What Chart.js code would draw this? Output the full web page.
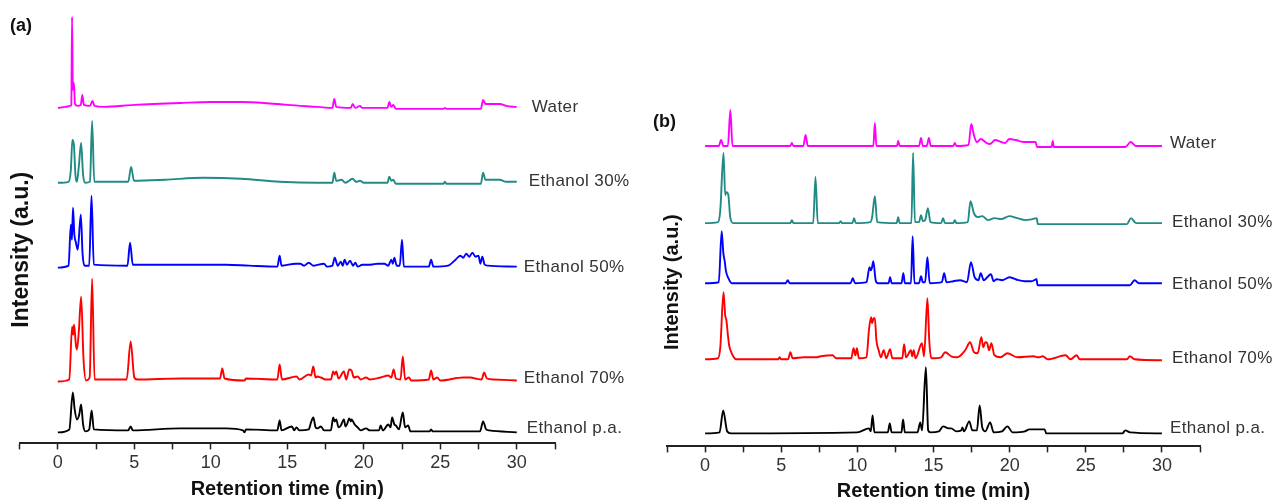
<!DOCTYPE html>
<html>
<head>
<meta charset="utf-8">
<script src="https://cdn.jsdelivr.net/npm/chart.js@4.4.1/dist/chart.umd.min.js"></script>
<style>
  body { margin: 0; background: #fff; }
  #wrap { position: relative; width: 1279px; height: 500px; overflow: hidden; }
  #chartA { position: absolute; left: 0; top: 0; }
  #chartB { position: absolute; left: 640px; top: 0; }
</style>
</head>
<body>
<div id="wrap">
  <canvas id="chartA" width="640" height="500"></canvas>
  <canvas id="chartB" width="639" height="500"></canvas>
</div>
<script>
// trace names, top to bottom
const traceNames = ['Water', 'Ethanol 30%', 'Ethanol 50%', 'Ethanol 70%', 'Ethanol p.a.']
const traceColors = ['#ff00ff', '#208a84', '#0000ff', '#ff0000', '#000000']

// stacking offsets (a.u.) of each trace baseline
const offsetsA = [337, 261, 177, 63, 12]
const offsetsB = [300, 223, 163, 87, 13]

// ---- panel (a) : retention time (min) / intensity above baseline (a.u.)
const timeAWater = [0, 0.5, 0.8, 0.88, 0.93, 0.98, 1.05, 1.12, 1.3, 1.5, 1.6, 1.7, 2.1, 2.26, 2.4, 3, 5, 8, 10, 12, 13.5, 15, 17, 17.95, 18.07, 18.2, 19.15, 19.27, 19.45, 19.75, 19.9, 21.55, 21.67, 21.8, 21.93, 22.1, 25.2, 25.3, 25.4, 27.65, 27.8, 27.95, 28.9, 29.3, 30]
const intAWater = [-1, 0, 1, 2, 90, 17, 24, 3, 1, 2, 12, 2, 1, 6, 1, 0, 2, 4, 5, 5, 4, 2, 0, -1, 8, 0, -1, 3, -1, 1, -1, -1, 5, 0, 2, -2, -2, -1, -2, -2, 7, 3, 3, 1, 0]

const timeA30 = [0, 0.7, 0.85, 0.95, 1.05, 1.15, 1.25, 1.38, 1.52, 1.65, 1.8, 2.1, 2.24, 2.38, 4.6, 4.79, 4.98, 7, 9.5, 12, 14.5, 17, 17.95, 18.07, 18.2, 18.55, 18.8, 19.27, 19.5, 19.75, 20, 21.55, 21.67, 21.8, 21.93, 22.1, 25.2, 25.3, 25.4, 27.65, 27.8, 27.95, 28.9, 29.3, 30]
const intA30 = [0, 1, 13, 43, 38, 8, 1, 18, 40, 8, 0, 1, 62, 1, 1, 16, 2, 3, 5, 4, 1, 0, 0, 10, 2, 3, 0, 4, 1, 2, 0, 0, 6, 2, 3, -1, -1, 1, -1, -1, 10, 3, 3, 1, 1]

const timeA50 = [0, 0.7, 0.85, 0.92, 0.99, 1.08, 1.17, 1.3, 1.5, 1.62, 1.75, 2.05, 2.2, 2.35, 4.55, 4.72, 4.9, 7, 9, 11, 12.5, 14.35, 14.5, 14.62, 15.55, 15.85, 16.1, 16.4, 16.7, 17.4, 17.6, 17.95, 18.1, 18.3, 18.5, 18.62, 18.75, 18.9, 19.1, 19.3, 19.45, 19.6, 19.9, 20.45, 20.9, 21.35, 21.6, 21.8, 21.9, 22, 22.15, 22.35, 22.5, 22.62, 22.8, 24.25, 24.4, 24.55, 25.5, 26, 26.3, 26.5, 26.7, 26.9, 27.1, 27.3, 27.5, 27.62, 27.75, 27.9, 28.1, 30]
const intA50 = [-1, 1, 42, 27, 59, 32, 25, 17, 52, 12, 1, 1, 71, 2, 1, 24, 2, 2, 2, 2, 1, 0, 11, 1, 3, 3, 1, 4, 1, 3, 0, 1, 9, 1, 5, 1, 7, 2, 6, 1, 4, 0, 2, 2, 3, 3, 1, 7, 3, 9, 1, 1, 27, 0, 0, 0, 7, 0, 1, 7, 11, 9, 13, 10, 14, 10, 11, 3, 10, 2, 1, 0]

const timeA70 = [0, 0.75, 0.93, 1, 1.06, 1.18, 1.25, 1.38, 1.52, 1.68, 1.84, 2.08, 2.24, 2.4, 4.5, 4.76, 5, 5.2, 8, 10.6, 10.75, 10.9, 12.2, 12.3, 14.35, 14.5, 14.65, 15.6, 15.8, 16.4, 16.55, 16.7, 16.85, 16.95, 17.2, 17.5, 17.85, 18, 18.1, 18.2, 18.35, 18.7, 18.85, 19.05, 19.2, 19.35, 19.6, 19.8, 20.15, 20.4, 21.1, 21.6, 21.8, 21.95, 22.1, 22.4, 22.55, 22.7, 22.95, 23.1, 24.25, 24.4, 24.55, 24.8, 25, 26.5, 27, 27.3, 27.7, 27.87, 28.05, 28.5, 30]
const intA70 = [-1, 1, 54, 46, 56, 36, 31, 51, 84, 21, 0, 3, 102, 1, 1, 39, 3, 1, 2, 2, 12, 2, 0, 2, 1, 16, 1, 4, 1, 6, 5, 14, 3, 4, 3, 1, 1, 9, 6, 9, 2, 9, 1, 11, 10, 3, 4, 1, 3, 1, 3, 5, 3, 11, 2, 1, 24, 1, 3, 0, 1, 10, 1, 3, 0, 3, 3, 2, 1, 8, 2, 1, 0]

const timeAPa = [0, 0.75, 0.98, 1.1, 1.25, 1.4, 1.52, 1.65, 1.8, 2.05, 2.21, 2.35, 4.6, 4.76, 4.9, 8, 11, 12.1, 12.2, 12.3, 14.35, 14.5, 14.62, 15.3, 15.45, 15.6, 15.8, 16.4, 16.55, 16.7, 16.85, 16.95, 17.2, 17.4, 17.85, 18, 18.1, 18.2, 18.35, 18.5, 18.7, 18.8, 18.9, 19.05, 19.15, 19.2, 19.4, 19.6, 19.8, 20.15, 20.4, 21, 21.1, 21.25, 21.6, 21.75, 21.85, 22, 22.1, 22.3, 22.55, 22.7, 22.9, 23.05, 24.3, 24.4, 24.5, 27.6, 27.8, 28, 28.2, 30]
const intAPa = [-1, 2, 39, 22, 12, 17, 27, 7, 0, 2, 21, 2, 1, 5, 1, 3, 3, 1, -1, 2, 1, 11, 1, 5, 1, 4, 1, 2, 9, 14, 4, 3, 5, 1, 1, 14, 10, 12, 4, 6, 12, 5, 7, 13, 10, 12, 7, 4, 1, 3, 1, 1, 6, 1, 7, 4, 14, 7, 6, 2, 19, 4, 6, 0, 0, 2, 0, 0, 10, 2, 1, -1]

// ---- panel (b)
const timeBWater = [0, 0.9, 1.05, 1.2, 1.5, 1.66, 1.8, 5.6, 5.7, 5.8, 6.45, 6.6, 6.75, 11.05, 11.15, 11.25, 12.6, 12.68, 12.78, 14.05, 14.18, 14.3, 14.55, 14.7, 14.82, 16.3, 16.4, 16.5, 17.3, 17.48, 17.65, 17.85, 18.1, 18.5, 18.7, 19.05, 19.45, 19.7, 19.98, 20.4, 20.9, 21.3, 21.7, 21.8, 22.75, 22.83, 22.9, 27.6, 27.95, 28.3, 30]
const intBWater = [0, 0, 6, 0, 0, 36, 0, 0, 3, 0, 0, 11, 0, 0, 23, 0, 0, 5, 0, 0, 8, 0, 0, 8, 0, 0, 3, 0, 1, 22, 11, 4, 7, 3, 2, 6, 4, 3, 7, 6, 4, 4, 4, -1, -1, 5, -1, -1, 4, 0, 0]

const timeB30 = [0, 0.85, 1, 1.21, 1.32, 1.4, 1.53, 1.65, 1.85, 5.6, 5.7, 5.8, 7.1, 7.25, 7.4, 8.8, 8.9, 9, 9.68, 9.78, 9.9, 10.85, 10.97, 11.15, 11.3, 12.58, 12.68, 12.78, 13.55, 13.66, 13.78, 14.05, 14.18, 14.3, 14.45, 14.63, 14.8, 15.5, 15.63, 15.75, 16.3, 16.4, 16.5, 17.25, 17.43, 17.65, 17.9, 18.2, 18.58, 19, 19.45, 19.98, 20.5, 21.04, 21.5, 21.78, 21.85, 27.7, 27.97, 28.3, 30]
const intB30 = [0, 1, 13, 70, 28, 31, 28, 6, 0, 0, 3, 0, 0, 46, 0, 0, 2, 0, 0, 5, 0, 1, 6, 27, 1, 0, 6, 0, 0, 70, 1, 1, 8, 2, 3, 15, 1, 0, 5, 0, 0, 3, 0, 1, 22, 10, 6, 7, 3, 5, 4, 7, 5, 3, 4, 5, -1, -1, 5, 0, 0]

const timeB50 = [0, 0.9, 1.09, 1.2, 1.3, 1.36, 1.53, 1.75, 5.3, 5.43, 5.55, 9.55, 9.7, 9.85, 10.6, 10.8, 10.88, 10.95, 11.05, 11.2, 11.35, 12.05, 12.15, 12.25, 12.9, 13.02, 13.12, 13.52, 13.63, 13.75, 14.05, 14.18, 14.3, 14.45, 14.6, 14.75, 15.55, 15.7, 15.85, 16.3, 16.74, 17.2, 17.46, 17.7, 17.95, 18.1, 18.3, 18.77, 18.95, 19.15, 19.5, 20, 20.57, 21, 21.45, 21.77, 21.83, 27.9, 28.2, 28.5, 30]
const intB50 = [0, 1, 52, 30, 21, 13, 5, 0, 0, 3, 0, 0, 5, 0, 1, 16, 13, 15, 22, 3, 0, 0, 6, 0, 0, 10, 0, 0, 47, 0, 0, 7, 1, 1, 26, 0, 1, 10, 1, 2, 3, 1, 21, 6, 3, 10, 3, 9, 2, 4, 3, 6, 3, 2, 2, 4, -2, -2, 3, 0, 0]

const timeB70 = [0, 0.85, 1, 1.21, 1.32, 1.4, 1.5, 1.58, 1.75, 2.05, 4.8, 4.9, 5, 5.45, 5.6, 5.75, 6.5, 7.28, 7.6, 8.38, 8.6, 9.6, 9.75, 9.87, 9.97, 10.1, 10.6, 10.76, 10.9, 10.97, 11.07, 11.15, 11.25, 11.4, 11.55, 11.73, 11.9, 12.15, 12.3, 12.95, 13.07, 13.2, 13.52, 13.6, 13.7, 13.82, 14.24, 14.38, 14.6, 14.72, 14.85, 15.5, 15.77, 16.16, 16.56, 17.08, 17.4, 17.66, 17.9, 18.14, 18.27, 18.4, 18.53, 18.65, 18.8, 19, 19.4, 19.85, 20.5, 21.57, 21.9, 22.17, 22.5, 23.68, 24, 24.4, 24.6, 27.7, 27.9, 28.2, 30]
const intB70 = [0, 1, 12, 67, 44, 39, 24, 14, 6, 0, 0, 2, 0, 0, 7, 1, 2, 2, 3, 4, 1, 1, 11, 4, 11, 1, 2, 29, 42, 36, 41, 41, 19, 9, 2, 9, 1, 10, 1, 1, 15, 2, 9, 3, 9, 1, 16, 3, 61, 19, 1, 2, 7, 3, 2, 9, 17, 7, 6, 22, 12, 17, 16, 9, 16, 4, 2, 6, 2, 3, 2, 3, 0, 4, 0, 4, 0, 0, 3, 0, -1]

const timeBPa = [0, 0.95, 1.19, 1.45, 1.7, 10, 10.76, 10.88, 11, 11.12, 12, 12.13, 12.25, 12.9, 13, 13.12, 13.95, 14.13, 14.25, 14.5, 14.65, 14.8, 15.35, 15.63, 16, 16.16, 16.5, 16.82, 16.9, 17, 17.35, 17.55, 17.85, 18.03, 18.2, 18.4, 18.72, 18.95, 19.5, 19.85, 20.2, 21, 21.3, 22.3, 22.4, 27.4, 27.6, 27.9, 30]
const intBPa = [0, 1, 23, 2, 0, 1, 5, 2, 18, 1, 1, 10, 1, 1, 14, 1, 1, 11, 3, 66, 3, 1, 2, 7, 5, 5, 2, 3, 6, 2, 12, 3, 3, 28, 6, 2, 11, 1, 2, 7, 1, 2, 4, 4, 0, 0, 3, 1, 0]

const xTicks = [0, 5, 10, 15, 20, 25, 30]

const FONT = '"Liberation Sans", Arial, Helvetica, sans-serif'
Chart.defaults.font.family = FONT

function buildDatasets(times, ints, offsets) {
  return traceNames.map((name, i) => ({
    label: name,
    offset: offsets[i],
    data: times[i].map((t, k) => ({ x: t, y: ints[i][k] + offsets[i] })),
    borderColor: traceColors[i],
    borderWidth: 1.9,
    borderJoinStyle: 'round',
    pointRadius: 0,
    cubicInterpolationMode: 'monotone',
    clip: false
  }))
}

const traceLabels = {
  id: 'traceLabels',
  afterDraw(chart, args, opts) {
    const { ctx, scales: { x, y } } = chart
    ctx.save()
    ctx.font = '17px ' + FONT
    ctx.letterSpacing = '0.4px'
    ctx.fillStyle = '#333'
    ctx.textBaseline = 'middle'
    ctx.textAlign = 'left'
    chart.data.datasets.forEach((ds, i) => {
      ctx.fillText(ds.label, x.getPixelForValue(30) + opts.gap[i], y.getPixelForValue(ds.offset) + opts.dy[i])
    })
    ctx.letterSpacing = '0px'
    ctx.font = 'bold 18px ' + FONT
    ctx.fillStyle = '#111'
    ctx.fillText(opts.panel, opts.panelX, opts.panelY)
    ctx.restore()
  }
}

function makeOptions(cfg) {
  return {
    responsive: false,
    animation: false,
    devicePixelRatio: 1,
    layout: { padding: { top: cfg.top, right: cfg.right, left: 0, bottom: 0 } },
    plugins: {
      legend: { display: false },
      tooltip: { enabled: false },
      traceLabels: { gap: cfg.gap, dy: cfg.dy, panel: cfg.panel, panelX: cfg.panelX, panelY: cfg.panelY }
    },
    scales: {
      x: {
        type: 'linear',
        min: -2.5,
        max: 32.5,
        border: { display: true, color: '#222', width: 2 },
        grid: { display: true, drawOnChartArea: false, drawTicks: true, tickLength: 6, tickColor: '#222', tickWidth: 1.5 },
        ticks: {
          stepSize: 2.5,
          autoSkip: false,
          maxRotation: 0,
          padding: 3,
          color: '#333',
          font: { size: 18 },
          callback: v => xTicks.includes(v) ? String(v) : ''
        },
        title: {
          display: true,
          text: 'Retention time (min)',
          color: '#111',
          font: { size: 20, weight: 'bold' },
          padding: { top: cfg.xtPadTop, bottom: cfg.xtPadBottom }
        }
      },
      y: {
        type: 'linear',
        min: 0,
        max: cfg.ymax,
        ticks: { display: false },
        grid: { display: false, drawTicks: false },
        border: { display: false },
        title: {
          display: true,
          text: 'Intensity (a.u.)',
          color: '#111',
          font: { size: cfg.ytSize, weight: 'bold' },
          padding: { top: cfg.ytPadTop, bottom: cfg.ytPadBottom }
        }
      }
    }
  }
}

new Chart(document.getElementById('chartA'), {
  type: 'line',
  data: {
    datasets: buildDatasets(
      [timeAWater, timeA30, timeA50, timeA70, timeAPa],
      [intAWater, intA30, intA50, intA70, intAPa],
      offsetsA)
  },
  options: makeOptions({
    top: 56, right: 85, ymax: 388, gap: [15, 12, 7, 7, 10], dy: [0, -1, 1, -2, -3],
    panel: '(a)', panelX: 10, panelY: 26,
    ytSize: 23, ytPadTop: 8, ytPadBottom: -16,
    xtPadTop: 0, xtPadBottom: -1
  }),
  plugins: [traceLabels]
})

new Chart(document.getElementById('chartB'), {
  type: 'line',
  data: {
    datasets: buildDatasets(
      [timeBWater, timeB30, timeB50, timeB70, timeBPa],
      [intBWater, intB30, intB50, intB70, intBPa],
      offsetsB)
  },
  options: makeOptions({
    top: 118, right: 79, ymax: 328, gap: [8, 10, 10, 10, 8], dy: [-3, -1, 1, -1, -5],
    panel: '(b)', panelX: 13, panelY: 122,
    ytSize: 20, ytPadTop: 20, ytPadBottom: -17,
    xtPadTop: -1, xtPadBottom: -3
  }),
  plugins: [traceLabels]
})
</script>
</body>
</html>
